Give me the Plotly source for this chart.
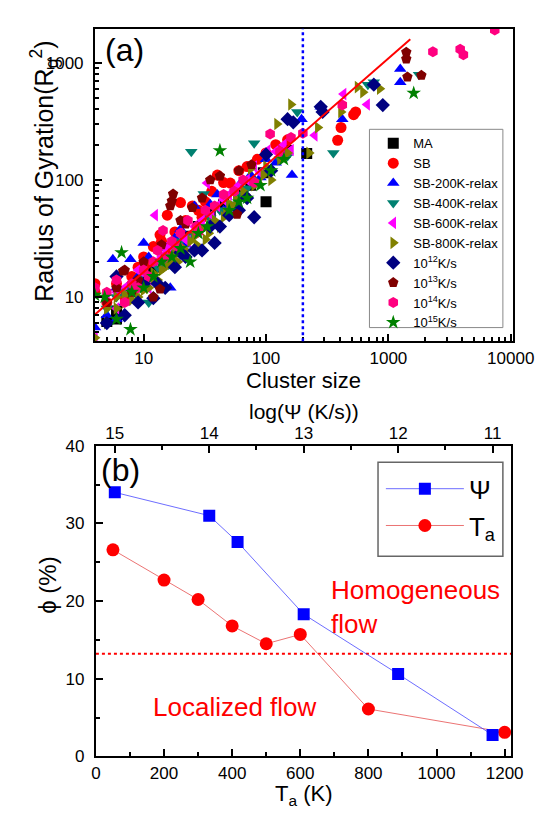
import plotly.graph_objects as go
import math

# ---------------- Panel (a) data: cluster size vs Rg^2 ----------------
ma_x = [5, 6, 6, 8, 10, 12, 15, 18, 22, 28, 35, 45, 60, 75, 95, 100, 148, 215]
ma_y = [6.2, 6.5, 7.6, 12, 14, 18, 21, 28, 33, 40, 52, 62, 75, 90, 115, 65, 178, 168]

sb_x = [4, 4, 5, 6, 7, 8, 9, 10, 11, 12, 13.6, 14, 15.6, 18, 20, 22, 25, 28, 32, 36, 40, 45, 51, 60, 70, 85, 100, 120, 150, 385, 410, 520, 540, 16, 24, 30]
sb_y = [13, 11, 9, 13, 10, 15, 18, 22, 20, 27, 34, 30, 50, 36, 64, 45, 60, 55, 65, 80, 110, 95, 94, 120, 130, 150, 170, 200, 220, 218, 280, 360, 380, 24, 33, 48]

sb200_x = [4, 5, 5.6, 6, 6, 7, 7.8, 9, 10, 11, 12, 14, 16.5, 18, 20, 22, 26, 30, 35, 40, 50, 60, 75, 90, 100, 120, 140, 163, 195, 280, 420, 1250, 1250, 8, 13, 45]
sb200_y = [5.5, 7, 21, 6.5, 12, 9, 21, 15, 29, 22, 14, 26, 12, 32, 38, 28, 60, 40, 62, 75, 60, 90, 110, 105, 150, 140, 165, 110, 330, 420, 330, 885, 680, 12, 19, 55]

sb400_x = [5, 6, 7, 8, 10, 11, 13, 15, 18, 20, 24.5, 25, 31, 35, 42, 50, 60, 80, 100, 130, 150, 180, 355, 680, 760, 1780, 9, 16, 28, 70]
sb400_y = [8, 10, 11, 12, 15, 9, 18, 20, 26, 30, 174, 33, 76, 47, 55, 62, 75, 205, 120, 150, 160, 380, 170, 650, 680, 790, 13, 19, 36, 85]

sb600_x = [4, 5, 6, 7, 8, 9, 10, 11, 12.4, 13, 14, 16, 18, 20, 23, 26, 30, 33, 40, 45, 50, 60, 70, 80, 103, 120, 140, 160, 250, 430, 670, 6, 9, 15, 22, 36, 55, 90]
sb600_y = [4.5, 9, 8, 12, 11, 14, 16, 12, 50, 20, 22, 28, 25, 35, 30, 40, 45, 94, 60, 68, 75, 90, 100, 130, 178, 175, 200, 180, 240, 540, 440, 11, 17, 26, 31, 50, 82, 115]

sb800_x = [4, 5, 5, 6, 7, 8, 9, 10, 11, 12, 13, 15, 17, 19, 21, 24, 27, 30, 34, 38, 42, 47, 53, 60, 68, 75, 85, 95, 110, 123, 160, 150, 225, 265, 410, 560, 620, 850,
           6, 7, 8, 10, 12, 14, 16, 18, 22, 26, 32, 36, 45, 50, 57, 65, 80, 100, 130]
sb800_y = [4.5, 6, 8, 10, 9, 11, 10, 13, 12, 16, 14, 18, 21, 20, 26, 30, 28, 38, 35, 45, 40, 52, 60, 55, 75, 125, 95, 110, 100, 300, 440, 170, 170, 280, 380, 620, 560, 600,
           8, 10.5, 9.5, 11.5, 14.5, 17, 19, 23, 25, 33, 31, 42, 48, 62, 68, 80, 90, 130, 150]

k12_x = [5, 6, 7, 9, 12, 13, 15, 18, 22, 26, 30, 38, 42, 50, 60, 70, 80, 100, 110, 150, 167, 280, 290, 760, 900, 10, 20, 35]
k12_y = [6, 15, 7, 9, 9.8, 13, 12, 18, 22, 25, 25, 29, 40, 50, 55, 70, 48, 165, 120, 330, 310, 420, 380, 650, 435, 13, 24, 40]

k13_x = [5, 6, 6.8, 7, 8, 10, 12, 13.6, 16.5, 17, 17.4, 20, 25, 30, 35, 42, 58, 60, 76, 1400, 1400, 1430, 1860, 9, 14, 22]
k13_y = [9, 12, 16.7, 17, 11, 20, 10, 11.7, 60, 66, 76, 45, 58, 70, 100, 108, 51, 120, 135, 1230, 1075, 755, 780, 14, 28, 42]

k14_x = [4, 5, 6, 7, 8, 9, 10, 12, 13, 14.4, 17, 20, 23, 27, 32, 38, 45, 55, 65, 80, 108, 130, 160, 200, 420, 2310, 3860, 4100, 7400, 11, 15, 19, 28]
k14_y = [12, 11, 14, 9, 13, 12, 17, 20, 25, 37, 30, 35, 45, 40, 55, 60, 75, 80, 100, 95, 246, 175, 230, 250, 435, 1240, 1300, 1170, 1900, 15, 22, 27, 36]

k15_x = [4, 4.8, 6, 6.6, 7.8, 8, 10, 12, 14, 17, 20, 24, 28, 33, 42, 50, 60, 70, 90, 110, 140, 1610]
k15_y = [10.4, 10, 6.5, 24, 5.3, 11, 12, 15, 20, 22, 26, 20, 35, 40, 178, 55, 65, 70, 90, 120, 150, 550]

fit_x = [4, 1510]
fit_y = [7.1, 1585]
threshold_size = 200

# ---------------- Panel (b) data ----------------
psi_log = [15, 14, 13.7, 13, 12, 11]
psi_phi = [34.0, 31.0, 27.6, 18.3, 10.6, 2.75]
ta_k = [50, 200, 300, 400, 500, 600, 800, 1200]
ta_phi = [26.6, 22.7, 20.2, 16.8, 14.5, 15.7, 6.1, 3.1]
threshold_phi = 13.2

FONT = "Liberation Sans"
W, H = 554, 815

series = [
    ("MA", ma_x, ma_y, "square", "#000000"),
    ("SB", sb_x, sb_y, "circle", "#FF0000"),
    ("SB-200K-relax", sb200_x, sb200_y, "triangle-up", "#0000FF"),
    ("SB-400K-relax", sb400_x, sb400_y, "triangle-down", "#008070"),
    ("SB-600K-relax", sb600_x, sb600_y, "triangle-left", "#FF00FF"),
    ("SB-800K-relax", sb800_x, sb800_y, "triangle-right", "#808000"),
    ("10<sup>12</sup>K/s", k12_x, k12_y, "diamond", "#000080"),
    ("10<sup>13</sup>K/s", k13_x, k13_y, "pentagon", "#800000"),
    ("10<sup>14</sup>K/s", k14_x, k14_y, "hexagon", "#FF0080"),
    ("10<sup>15</sup>K/s", k15_x, k15_y, "star", "#008000"),
]

fig = go.Figure()
for name, xs, ys, sym, col in series:
    fig.add_trace(go.Scatter(
        x=xs, y=ys, mode="markers", name=name,
        marker=dict(symbol=sym, color=col, size=11, line=dict(width=0)),
        xaxis="x", yaxis="y", legend="legend"))

fig.add_trace(go.Scatter(x=fit_x, y=fit_y, mode="lines", showlegend=False,
                         line=dict(color="#FF0000", width=2), xaxis="x", yaxis="y"))

# Panel (b)
fig.add_trace(go.Scatter(x=psi_log, y=psi_phi, mode="lines+markers", name="Ψ",
                         marker=dict(symbol="square", size=12, color="#0000FF"),
                         line=dict(color="rgba(60,60,255,0.75)", width=1),
                         xaxis="x3", yaxis="y2", legend="legend2"))
fig.add_trace(go.Scatter(x=ta_k, y=ta_phi, mode="lines+markers", name="T<sub>a</sub>",
                         marker=dict(symbol="circle", size=13, color="#FF0000"),
                         line=dict(color="rgba(230,80,80,0.8)", width=1),
                         xaxis="x2", yaxis="y2", legend="legend2"))

def px2fx(p):
    return p / W

def px2fy(p):
    return 1 - p / H

axis_common = dict(showline=True, mirror=True, linewidth=2, linecolor="black",
                   ticks="inside", tickcolor="black", tickwidth=1.5, ticklen=7,
                   showgrid=False, zeroline=False,
                   tickfont=dict(family=FONT, size=17, color="black"))

fig.update_layout(
    width=W, height=H, margin=dict(l=0, r=0, t=0, b=0),
    paper_bgcolor="white", plot_bgcolor="white",
    font=dict(family=FONT, color="black"),
    xaxis=dict(type="log", range=[math.log10(4), math.log10(10500)],
               domain=[px2fx(86), px2fx(525)], anchor="y",
               tickvals=[10, 100, 1000, 10000], ticktext=["10", "100", "1000", "10000"],
               minor=dict(ticks="inside", ticklen=4, tickcolor="black", dtick="D1", showgrid=False),
               **axis_common),
    yaxis=dict(type="log", range=[math.log10(4.2), math.log10(1950)],
               domain=[px2fy(332), px2fy(12)], anchor="x",
               tickvals=[10, 100, 1000], ticktext=["10", "100", "1000"],
               minor=dict(ticks="inside", ticklen=4, tickcolor="black", dtick="D1", showgrid=False),
               ticklabelstandoff=6,
               **axis_common),
    xaxis2=dict(range=[0, 1220], domain=[px2fx(87), px2fx(523)], anchor="y2",
                dtick=200, minor=dict(ticks="inside", ticklen=4, tickcolor="black", dtick=100),
                **axis_common),
    yaxis2=dict(range=[0, 40], domain=[px2fy(757), px2fy(439)], anchor="x2",
                dtick=10, minor=dict(ticks="inside", ticklen=4, tickcolor="black", dtick=5),
                ticklabelstandoff=6,
                **axis_common),
    xaxis3=dict(range=[15.2, 10.8], overlaying="x2", side="top", anchor="y2",
                dtick=1, minor=dict(ticks="inside", ticklen=4, tickcolor="black", dtick=0.5),
                showline=False, ticks="inside", tickcolor="black", tickwidth=1.5, ticklen=7,
                showgrid=False, zeroline=False, ticklabelstandoff=2,
                tickfont=dict(family=FONT, size=17, color="black")),
    legend=dict(x=px2fx(378), y=px2fy(114), xanchor="left", yanchor="top",
                borderwidth=0, bgcolor="rgba(0,0,0,0)",
                font=dict(family=FONT, size=13, color="black"), tracegroupgap=0),
    legend2=dict(x=px2fx(386), y=px2fy(459), xanchor="left", yanchor="top",
                 borderwidth=0, bgcolor="rgba(0,0,0,0)", itemwidth=78,
                 font=dict(family=FONT, size=26, color="black")),
)

# legend frames
fig.add_shape(type="rect", xref="paper", yref="paper",
              x0=px2fx(374), x1=px2fx(514), y0=px2fy(318), y1=px2fy(115),
              line=dict(color="#888888", width=1), fillcolor="white", layer="above")
fig.add_shape(type="rect", xref="paper", yref="paper",
              x0=px2fx(383), x1=px2fx(514), y0=px2fy(552), y1=px2fy(456),
              line=dict(color="#666666", width=1.5), fillcolor="white", layer="above")

# reference lines
fig.add_shape(type="line", xref="x", yref="y domain", x0=threshold_size, x1=threshold_size,
              y0=0, y1=1, line=dict(color="#0000FF", width=2.5, dash="dot"), layer="above")
fig.add_shape(type="line", xref="x2 domain", yref="y2", x0=0, x1=1,
              y0=threshold_phi, y1=threshold_phi,
              line=dict(color="#FF0000", width=2, dash="dot"), layer="below")

ann = [
    dict(text="(a)", x=px2fx(117), y=px2fy(34), size=32),
    dict(text="(b)", x=px2fx(113), y=px2fy(464), size=32),
    dict(text="Cluster size", x=px2fx(305), y=px2fy(372), size=22),
    dict(text="log(Ψ (K/s))", x=px2fx(305), y=px2fy(404), size=21),
    dict(text="T<sub>a</sub> (K)", x=px2fx(305), y=px2fy(797), size=22),
]
for a in ann:
    fig.add_annotation(text=a["text"], x=a["x"], y=a["y"], xref="paper", yref="paper",
                       showarrow=False, xanchor="center", yanchor="middle",
                       font=dict(family=FONT, size=a["size"], color="black"))

fig.add_annotation(text="Radius of Gyration(R<sub>g</sub><sup>2</sup>)", x=px2fx(33), y=px2fy(158),
                   xref="paper", yref="paper", showarrow=False, textangle=-90,
                   xanchor="center", yanchor="middle",
                   font=dict(family=FONT, size=25, color="black"))
fig.add_annotation(text="ϕ (%)", x=px2fx(36), y=px2fy(582),
                   xref="paper", yref="paper", showarrow=False, textangle=-90,
                   xanchor="center", yanchor="middle",
                   font=dict(family=FONT, size=24, color="black"))

fig.add_annotation(text="Homogeneous<br>flow", x=685, y=19.2, xref="x2", yref="y2",
                   showarrow=False, xanchor="left", yanchor="middle", align="left",
                   font=dict(family=FONT, size=26, color="#FF0000"))
fig.add_annotation(text="Localized flow", x=162, y=6.3, xref="x2", yref="y2",
                   showarrow=False, xanchor="left", yanchor="middle", align="left",
                   font=dict(family=FONT, size=26, color="#FF0000"))

fig.write_html("out.html")
